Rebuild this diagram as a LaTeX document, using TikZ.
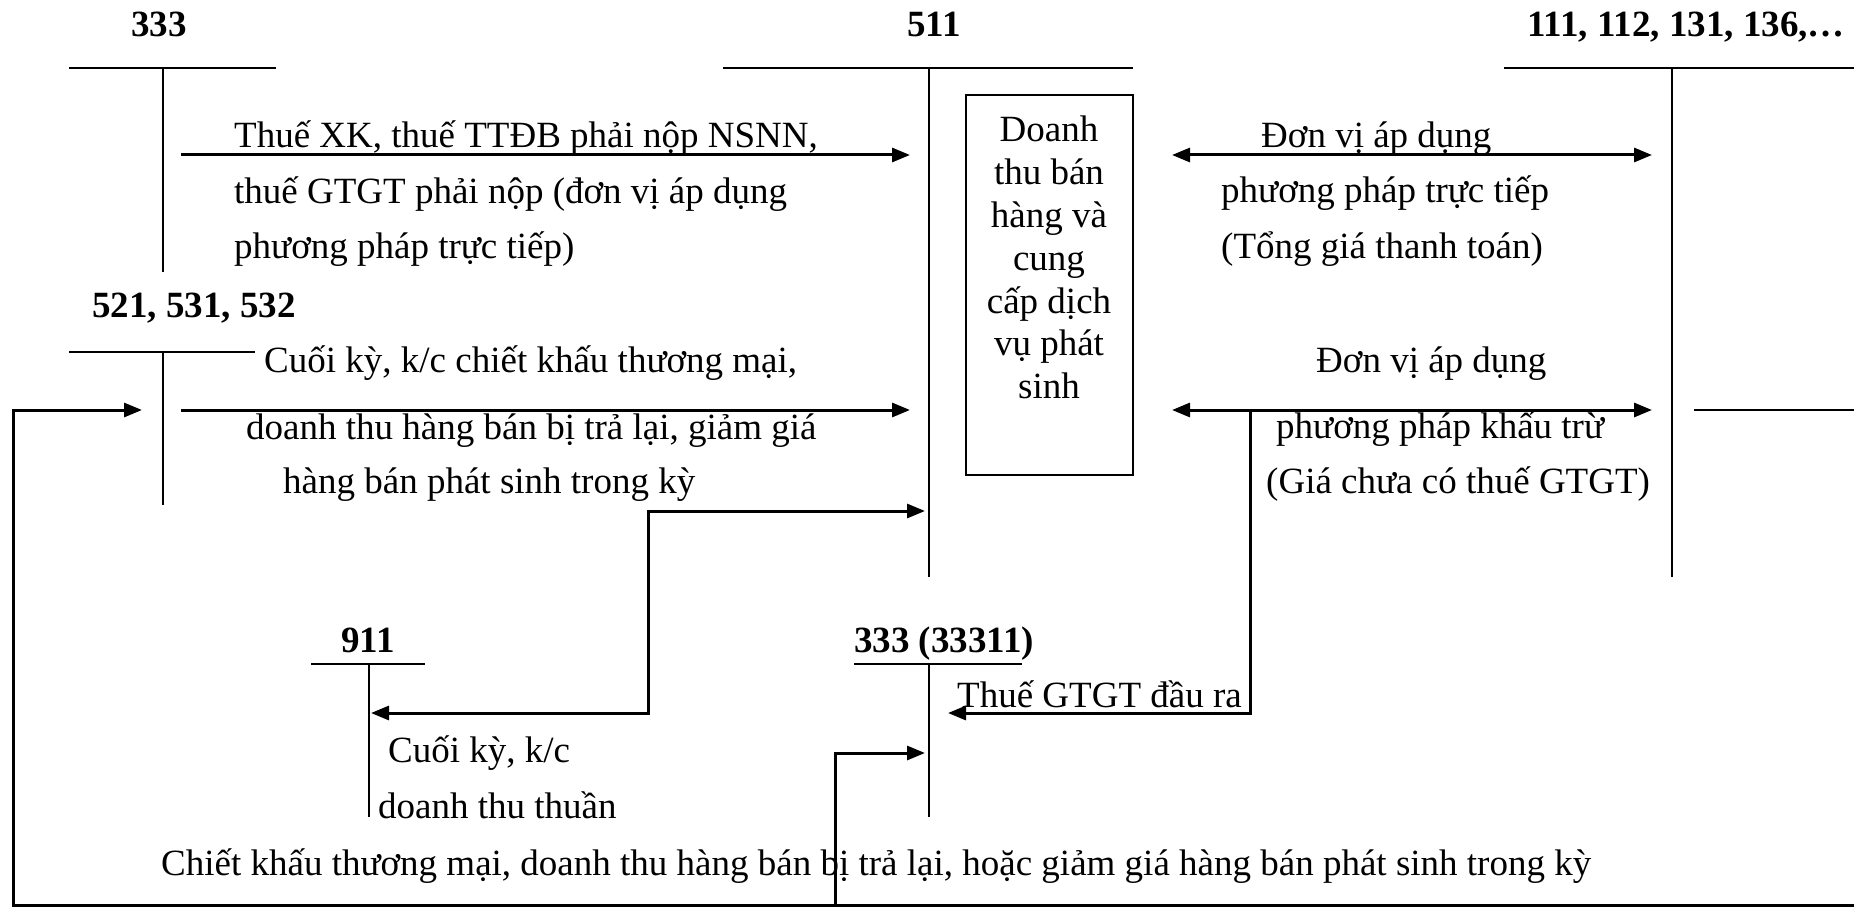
\documentclass[tikz,border=0pt]{standalone}
\usepackage{fontspec}
\setmainfont{Liberation Serif}
\usetikzlibrary{arrows.meta}
\begin{document}
\begin{tikzpicture}[x=1pt,y=-1pt,
  txt/.style={anchor=base west, inner sep=0pt, font=\fontsize{37}{56}\selectfont},
  acct/.style={anchor=base, inner sep=0pt, font=\fontsize{37}{44}\selectfont\bfseries},
  tline/.style={line width=2pt},
  flow/.style={line width=3pt, -{Triangle[length=18pt,width=14pt]}},
  both/.style={line width=3pt, {Triangle[length=18pt,width=14pt]}-{Triangle[length=18pt,width=14pt]}},
]
\useasboundingbox (0,0) rectangle (1854,912);

% account headings
\node[acct] (h333) at (159,37) {333};
\node[acct] (h511) at (934,37) {511};
\node[acct, anchor=base west] (h111) at (1527,37) {111, 112, 131, 136,…};
\node[acct, anchor=base west] (h521) at (92,317) {521, 531, 532};
\node[acct] (h911) at (368,652) {911};
\node[acct, anchor=base west] (h3331) at (854,652) {333 (33311)};

% T-accounts
\draw[tline] (69,68) -- (276,68);   \draw[tline] (163,68) -- (163,272);
\draw[tline] (723,68) -- (1133,68); \draw[tline] (929,68) -- (929,577);
\draw[tline] (1504,68) -- (1854,68); \draw[tline] (1672,68) -- (1672,577);
\draw[tline] (1694,410) -- (1854,410);
\draw[tline] (69,352) -- (255,352); \draw[tline] (163,352) -- (163,505);
\draw[tline] (311,664) -- (425,664); \draw[tline] (369,664) -- (369,817);
\draw[tline] (854,664) -- (1022,664); \draw[tline] (929,664) -- (929,817);

% revenue box
\node[draw, line width=2pt, minimum width=167pt, minimum height=380pt, inner sep=0pt] (box) at (1049.5,285) {};
\node[align=center, anchor=north, inner sep=0pt, font=\fontsize{37}{42.8}\selectfont] (boxtxt) at (1049,116)
  {Doanh\\thu bán\\hàng và\\cung\\cấp dịch\\vụ phát\\sinh};

% connector end points
\coordinate (a1s) at (181,155);  \coordinate (a1e) at (910,155);
\coordinate (a2s) at (181,410);  \coordinate (a2e) at (910,410);
\coordinate (r1s) at (1172,155); \coordinate (r1e) at (1652,155);
\coordinate (r2s) at (1172,410); \coordinate (r2e) at (1652,410);
\coordinate (k911) at (371,713); \coordinate (k511) at (925,511);
\coordinate (vat0) at (1250,410); \coordinate (vat1) at (948,713);
\coordinate (ret0) at (835,905); \coordinate (ret1) at (925,753);
\coordinate (edge) at (1854,905); \coordinate (ret2) at (142,410);

% flows
\draw[flow] (a1s) -- (a1e);
\draw[flow] (a2s) -- (a2e);
\draw[both] (r1s) -- (r1e);
\draw[both] (r2s) -- (r2e);
\draw[both] (k911) -- (648,713) -- (648,511) -- (k511);
\draw[flow] (vat0) -- (1250,713) -- (vat1);
\draw[flow] (ret0) -- (835,753) -- (ret1);
\draw[flow] (edge) -- (13,905) -- (13,410) -- (ret2);

% labels
\node[txt] (l1) at (234,148) {Thuế XK, thuế TTĐB phải nộp NSNN,};
\node[txt] (l2) at (234,204) {thuế GTGT phải nộp (đơn vị áp dụng};
\node[txt] (l3) at (234,258) {phương pháp trực tiếp)};
\node[txt] (l4) at (264,372) {Cuối kỳ, k/c chiết khấu thương mại,};
\node[txt] (l5) at (246,439) {doanh thu hàng bán bị trả lại, giảm giá};
\node[txt] (l6) at (283,493) {hàng bán phát sinh trong kỳ};
\node[txt] (l7) at (388,762) {Cuối kỳ, k/c};
\node[txt] (l8) at (378,818) {doanh thu thuần};
\node[txt] (l9) at (161,875) {Chiết khấu thương mại, doanh thu hàng bán bị trả lại, hoặc giảm giá hàng bán phát sinh trong kỳ};
\node[txt] (l10) at (957,707) {Thuế GTGT đầu ra};
\node[txt] (r1) at (1261,148) {Đơn vị áp dụng};
\node[txt] (r2) at (1221,203) {phương pháp trực tiếp};
\node[txt] (r3) at (1221,258) {(Tổng giá thanh toán)};
\node[txt] (r4) at (1316,372) {Đơn vị áp dụng};
\node[txt] (r5) at (1276,438) {phương pháp khấu trừ};
\node[txt] (r6) at (1266,493) {(Giá chưa có thuế GTGT)};
\end{tikzpicture}
\end{document}
